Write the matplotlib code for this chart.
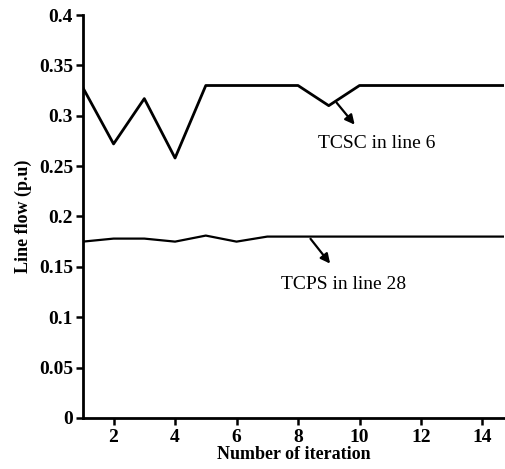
import matplotlib
matplotlib.use("Agg")
import matplotlib.pyplot as plt

iterations = list(range(1, 16))
tcsc = [0.328, 0.272, 0.317, 0.258, 0.330, 0.330, 0.330, 0.330, 0.310, 0.330,
        0.330, 0.330, 0.330, 0.330, 0.330]
tcps = [0.175, 0.178, 0.178, 0.175, 0.181, 0.175, 0.180, 0.180, 0.180, 0.180,
        0.180, 0.180, 0.180, 0.180, 0.180]
yticks = [0, 0.05, 0.1, 0.15, 0.2, 0.25, 0.3, 0.35, 0.4]
ytick_labels = ["0", "0.05", "0.1", "0.15", "0.2", "0.25", "0.3", "0.35", "0.4"]
xticks = [2, 4, 6, 8, 10, 12, 14]

plt.rcParams['font.family'] = ['Liberation Serif', 'DejaVu Serif']

fig = plt.figure(figsize=(5.05, 4.69), dpi=100)
ax = fig.add_axes([0.164, 0.109, 0.834, 0.859])

ax.plot(iterations, tcsc, color='black', lw=2)
ax.plot(iterations, tcps, color='black', lw=1.6)

ax.set_xlim(1, 14.7)
ax.set_ylim(0, 0.4)
ax.set_yticks(yticks)
ax.set_yticklabels(ytick_labels)
ax.set_xticks(xticks)
for lab in ax.get_xticklabels() + ax.get_yticklabels():
    lab.set_fontweight('bold')
    lab.set_fontsize(14)

ax.spines['top'].set_visible(False)
ax.spines['right'].set_visible(False)
for s in ['left', 'bottom']:
    ax.spines[s].set_linewidth(2)
ax.tick_params(axis='both', direction='out', length=5, width=1.8)
ax.tick_params(axis='y', pad=2)
ax.tick_params(axis='x', pad=3)

ax.set_ylabel('Line flow (p.u)', fontsize=13, fontweight='bold', labelpad=5)
ax.set_xlabel('Number of iteration', fontsize=13, fontweight='bold', labelpad=0)

ax.annotate('', xy=(9.9, 0.289), xytext=(9.2, 0.315),
            arrowprops=dict(arrowstyle='-|>', color='black', lw=1.6,
                            mutation_scale=14))
ax.text(10.55, 0.272, 'TCSC in line 6', fontsize=14, ha='center', va='center')

ax.annotate('', xy=(9.1, 0.151), xytext=(8.35, 0.180),
            arrowprops=dict(arrowstyle='-|>', color='black', lw=1.6,
                            mutation_scale=14))
ax.text(9.48, 0.132, 'TCPS in line 28', fontsize=14, ha='center', va='center')

fig.savefig('out.png', dpi=100)
